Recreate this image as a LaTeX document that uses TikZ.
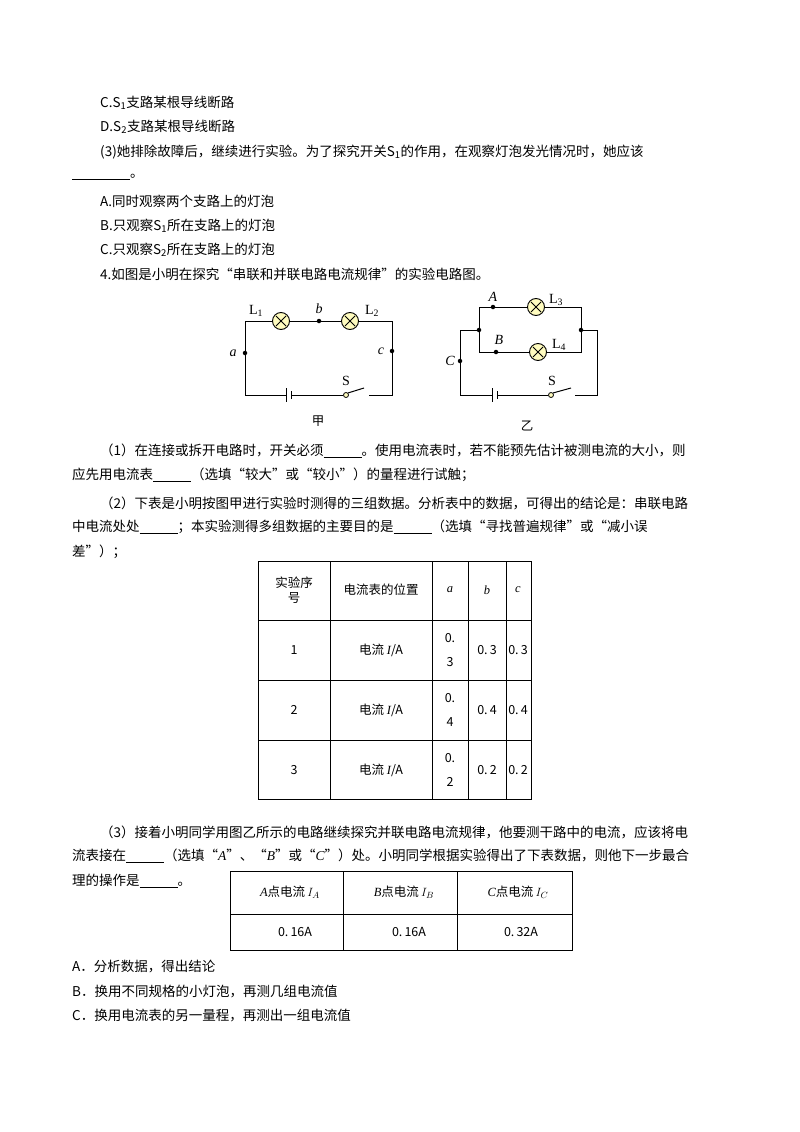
\documentclass[tikz,border=0pt]{standalone}
\usepackage{fontspec}
\setmainfont{Liberation Serif}
\newfontfamily\cjk{Noto Sans CJK SC}
\newcommand{\bl}[1]{\underline{\hspace{#1}}}
\newcommand{\ital}[1]{{\rmfamily\itshape #1}}
\usetikzlibrary{calc}
\begin{document}
\begin{tikzpicture}[x=1pt,y=-1pt,
  tx/.style={anchor=west,inner sep=0pt,font=\cjk\fontsize{13.5}{16}\selectfont},
  w/.style={line width=1pt},
  dot/.style={circle,fill,inner sep=0pt,minimum size=4.5pt},
  lamp/.style={circle,draw,line width=0.9pt,fill=yellow!25,minimum size=17pt,inner sep=0pt,
    path picture={\draw[line width=0.9pt] (path picture bounding box.north west)++(3.5pt,-3.5pt)--($(path picture bounding box.south east)+(-3.5pt,3.5pt)$)
    (path picture bounding box.south west)++(3.5pt,3.5pt)--($(path picture bounding box.north east)+(-3.5pt,-3.5pt)$);}},
  lbl/.style={font=\fontsize{14}{16}\selectfont,inner sep=1pt},
  cell/.style={font=\cjk\fontsize{12.5}{15}\selectfont,align=center,inner sep=0pt}]
\useasboundingbox (0,0) rectangle (800,1132);
% text
\node[tx] (t1) at (100,103) {C.S\textsubscript{1}支路某根导线断路};
\node[tx] (t2) at (100,127) {D.S\textsubscript{2}支路某根导线断路};
\node[tx] (t3) at (100,152) {(3)她排除故障后，继续进行实验。为了探究开关S\textsubscript{1}的作用，在观察灯泡发光情况时，她应该};
\node[tx] (t4) at (72,177) {\bl{58pt}。};
\node[tx] (t5) at (100,201) {A.同时观察两个支路上的灯泡};
\node[tx] (t6) at (100,226) {B.只观察S\textsubscript{1}所在支路上的灯泡};
\node[tx] (t7) at (100,250) {C.只观察S\textsubscript{2}所在支路上的灯泡};
\node[tx] (t8) at (100,274) {4.如图是小明在探究“串联和并联电路电流规律”的实验电路图。};
% circuit jia
\coordinate (j1) at (245,321); \coordinate (j2) at (392,321);
\coordinate (j3) at (392,395); \coordinate (j4) at (245,395);
\node[lamp] (L1) at (281,321) {}; \node[lamp] (L2) at (350,321) {};
\node[dot] (b) at (319,321) {}; \node[dot] (a) at (245,353) {}; \node[dot] (c) at (392,351) {};
\coordinate (bat1) at (286,395); \coordinate (bat2) at (291,395);
\node[circle,draw,line width=0.8pt,fill=yellow!25,minimum size=5pt,inner sep=0pt] (s1) at (346,395) {};
\coordinate (sw1) at (364,388); \coordinate (sw2) at (369,395);
\draw[w] (L1.east)--(b)--(L2.west) (L2.east)--(j2)--(c)--(j3)--(sw2);
\draw[w] (L1.west)--(j1)--(a)--(j4)--(bat1);
\draw[w] (bat1)++(0,-7)--++(0,14);
\draw[w] (bat2)++(0,-4)--++(0,8);
\draw[w] (bat2)--(s1.west); \draw[w] (s1.north east)--(sw1);
\node[lbl] (nL1) at (256,311) {L\textsubscript{1}}; \node[lbl] (nL2) at (372,311) {L\textsubscript{2}};
\node[lbl] (na) at (233,353) {\textit{a}}; \node[lbl] (nb) at (319,309) {\textit{b}};
\node[lbl] (nc) at (381,351) {\textit{c}}; \node[lbl] (nS) at (346,381) {S};
\node[cell] (jia) at (318,421) {甲};
% circuit yi
\coordinate (y1) at (460,330); \coordinate (y4) at (597,330);
\coordinate (y5) at (479,307); \coordinate (y6) at (581,307); \coordinate (y7) at (479,352); \coordinate (y8) at (581,352);
\coordinate (y9) at (597,395); \coordinate (y10) at (460,395);
\node[dot] (A) at (493,307) {}; \node[dot] (B) at (496,352) {}; \node[dot] (C) at (460,361) {};
\node[dot] (jl) at (479,330) {}; \node[dot] (jr) at (581,330) {};
\node[lamp] (L3) at (536,307) {}; \node[lamp] (L4) at (538,352) {};
\draw[w] (jl)--(y5)--(A)--(L3.west) (L3.east)--(y6)--(jr)--(y8)--(L4.east) (L4.west)--(B)--(y7)--(jl);
\draw[w] (jl)--(y1)--(C)--(y10)--(492,395) (jr)--(y4)--(y9)--(575,395);
\draw[w] (492,388)--(492,402); \draw[w] (497,391)--(497,399);
\node[circle,draw,line width=0.8pt,fill=yellow!25,minimum size=5pt,inner sep=0pt] (s2) at (551,395) {};
\draw[w] (497,395)--(s2.west); \draw[w] (s2.north east)--(571,388);
\node[lbl] (nA) at (493,297) {\textit{A}}; \node[lbl] (nB) at (499,340) {\textit{B}};
\node[lbl] (nC) at (450,361) {\textit{C}}; \node[lbl] (nS2) at (552,381) {S};
\node[lbl] (nL3) at (556,300) {L\textsubscript{3}}; \node[lbl] (nL4) at (559,345) {L\textsubscript{4}};
\node[cell] (yi) at (527,426) {乙};
% questions
\node[tx] (q1) at (100,451) {（1）在连接或拆开电路时，开关必须\bl{38pt}。使用电流表时，若不能预先估计被测电流的大小，则};
\node[tx] (q2) at (72,475) {应先用电流表\bl{38pt}（选填“较大”或“较小”）的量程进行试触；};
\node[tx] (q3) at (100,503) {（2）下表是小明按图甲进行实验时测得的三组数据。分析表中的数据，可得出的结论是：串联电路};
\node[tx] (q4) at (72,527) {中电流处处\bl{38pt}；本实验测得多组数据的主要目的是\bl{38pt}（选填“寻找普遍规律”或“减小误};
\node[tx] (q5) at (72,552) {差”）；};
% table 1
\draw[line width=1pt] (258,561) rectangle (531,799);
\foreach \x in {330,432,468,506} \draw[line width=0.8pt] (\x,561)--(\x,799);
\foreach \y in {620,680,740} \draw[line width=0.8pt] (258,\y)--(531,\y);
\node[cell] (h1) at (294,590) {实验序\\号};
\node[cell] (h2) at (381,590) {电流表的位置};
\node[cell] (h3) at (450,590) {\ital{a}}; \node[cell] (h4) at (487,590) {\ital{b}}; \node[cell] (h5) at (518,590) {\ital{c}};
\foreach \n/\y/\v in {1/650/3,2/710/4,3/770/2}{
  \node[cell] at (294,\y) {\n};
  \node[cell] at (381,\y) {电流 \ital{I}/A};
  \node[cell,font=\cjk\fontsize{12.5}{24}\selectfont] at (450,\y) {0.\\\v};
  \node[cell] at (487,\y) {0.\,\v}; \node[cell] at (518,\y) {0.\,\v};
}
\node[tx] (q6) at (100,832) {（3）接着小明同学用图乙所示的电路继续探究并联电路电流规律，他要测干路中的电流，应该将电};
\node[tx] (q7) at (72,856) {流表接在\bl{38pt}（选填“\ital{A}”、“\ital{B}”或“\ital{C}”）处。小明同学根据实验得出了下表数据，则他下一步最合};
\node[tx] (q8) at (72,881) {理的操作是\bl{38pt}。};
% table 2
\draw[line width=1pt] (230,871) rectangle (572,950);
\foreach \x in {343,457} \draw[line width=0.8pt] (\x,871)--(\x,950);
\draw[line width=0.8pt] (230,914)--(572,914);
\node[cell] (p1) at (290,892) {\ital{A}点电流\,$I_A$};
\node[cell] (p2) at (404,892) {\ital{B}点电流\,$I_B$};
\node[cell] (p3) at (518,892) {\ital{C}点电流\,$I_C$};
\node[cell] (v1) at (295,932) {0.\,16A}; \node[cell] (v2) at (409,932) {0.\,16A}; \node[cell] (v3) at (521,932) {0.\,32A};
\node[tx] (o1) at (72,967) {A．分析数据，得出结论};
\node[tx] (o2) at (72,992) {B．换用不同规格的小灯泡，再测几组电流值};
\node[tx] (o3) at (72,1016) {C．换用电流表的另一量程，再测出一组电流值};
\end{tikzpicture}
\end{document}
